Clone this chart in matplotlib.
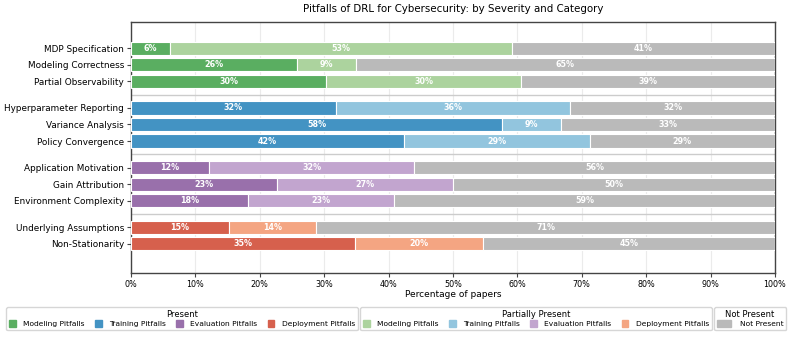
import matplotlib
matplotlib.use("Agg")
import matplotlib.pyplot as plt
from matplotlib.patches import Patch

categories = ["MDP Specification", "Modeling Correctness", "Partial Observability",
              "Hyperparameter Reporting", "Variance Analysis", "Policy Convergence",
              "Application Motivation", "Gain Attribution", "Environment Complexity",
              "Underlying Assumptions", "Non-Stationarity"]
groups = [0, 0, 0, 1, 1, 1, 2, 2, 2, 3, 3]
present = [6.1, 25.7, 30.3, 31.8, 57.6, 42.4, 12.1, 22.7, 18.2, 15.2, 34.8]
partial = [53.0, 9.2, 30.3, 36.4, 9.1, 28.8, 31.9, 27.3, 22.7, 13.6, 19.8]
not_present = [40.9, 65.1, 39.4, 31.8, 33.3, 28.8, 56.0, 50.0, 59.1, 71.2, 45.4]
group_names = ["Modeling Pitfalls", "Training Pitfalls", "Evaluation Pitfalls", "Deployment Pitfalls"]
present_colors = ["#5aae61", "#4393c3", "#9970ab", "#d6604d"]
partial_colors = ["#acd39e", "#92c5de", "#c2a5cf", "#f4a582"]
gray = "#bababa"

fig = plt.figure(figsize=(7.93, 3.38), dpi=100)
ax = fig.add_axes([131/793, 1-273/338, (775-131)/793, (273-22)/338])

gap = 0.6
ypos = [i + g * gap for i, g in enumerate(groups)]
h = 0.8
for y, g, p, pp, n in zip(ypos, groups, present, partial, not_present):
    segs = [(0, p, present_colors[g]), (p, pp, partial_colors[g]), (p + pp, n, gray)]
    for left, w, c in segs:
        ax.barh(y, w, left=left, height=h, color=c, edgecolor="white", linewidth=0.8, zorder=3)
        ax.text(left + w/2, y, f"{w:.0f}%", ha="center", va="center", color="white",
                fontsize=5.8, fontweight="bold", zorder=4)

# separators between groups
for k in range(1, 4):
    idx = groups.index(k)
    sep = (ypos[idx-1] + ypos[idx]) / 2
    ax.axhline(sep, color="#cccccc", linewidth=1.0, zorder=2)

ax.set_yticks(ypos)
ax.set_yticklabels(categories, fontsize=6.4)
ax.set_xlim(0, 100)
ax.set_ylim(ypos[-1] + 1.76, -1.58)
ax.set_xticks(range(0, 101, 10))
ax.set_xticklabels([f"{v}%" for v in range(0, 101, 10)], fontsize=5.8)
ax.set_xlabel("Percentage of papers", fontsize=6.5, labelpad=1)
ax.xaxis.grid(True, color="#ebebeb", linewidth=0.8, zorder=0)
ax.set_axisbelow(True)
for s in ax.spines.values():
    s.set_color("#444444")
    s.set_linewidth(1.0)
ax.tick_params(axis="both", length=3, width=0.8, colors="#444444", labelcolor="black", pad=2)
ax.set_title("Pitfalls of DRL for Cybersecurity: by Severity and Category", fontsize=7.4, pad=7)

leg_kw = dict(fontsize=5.4, title_fontsize=6.0, handleheight=0.9,
              columnspacing=1.4, borderpad=0.4, labelspacing=0.2,
              frameon=True, edgecolor="#cccccc", borderaxespad=0)
h1 = [Patch(color=c, label=n) for c, n in zip(present_colors, group_names)]
h2 = [Patch(color=c, label=n) for c, n in zip(partial_colors, group_names)]
h3 = [Patch(color=gray, label="Not Present")]
l1 = fig.legend(handles=h1, title="Present", ncol=4, loc="upper left",
                bbox_to_anchor=(6/793, 1-307/338), handlelength=0.9, handletextpad=0.95, **leg_kw)
l2 = fig.legend(handles=h2, title="Partially Present", ncol=4, loc="upper left",
                bbox_to_anchor=(360/793, 1-307/338), handlelength=0.9, handletextpad=0.95, **leg_kw)
l3 = fig.legend(handles=h3, title="Not Present", ncol=1, loc="upper left",
                bbox_to_anchor=(714/793, 1-307/338), handlelength=1.9, handletextpad=1.1, **leg_kw)

fig.savefig("out.png", dpi=100)
